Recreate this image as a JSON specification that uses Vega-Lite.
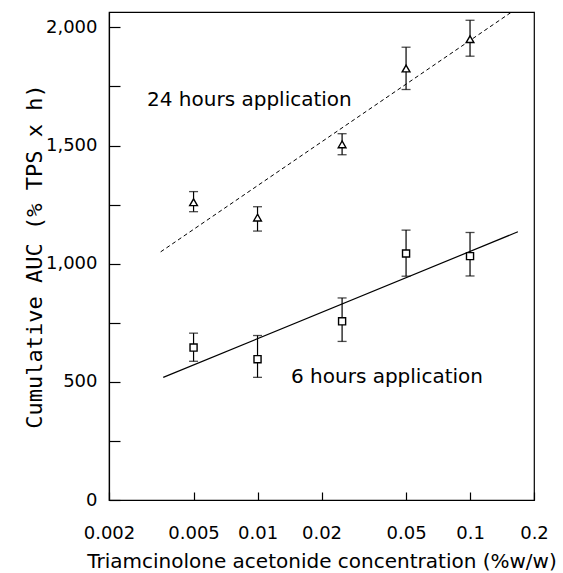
{
  "$schema": "https://vega.github.io/schema/vega-lite/v6.json",
  "width": 425,
  "height": 488,
  "autosize": {"type": "none"},
  "padding": {"left": 109, "top": 12, "right": 29, "bottom": 73},
  "background": "white",
  "config": {
    "view": {"stroke": "black", "strokeWidth": 1.2},
    "font": "DejaVu Sans",
    "axis": {
      "domainColor": "black",
      "domainWidth": 1.2,
      "tickColor": "black",
      "tickWidth": 1.2,
      "labelColor": "black",
      "titleColor": "black",
      "labelFont": "DejaVu Sans",
      "titleFont": "DejaVu Sans",
      "labelFontSize": 18,
      "titleFontSize": 20,
      "titleFontWeight": "normal",
      "grid": false
    }
  },
  "datasets": {
    "pts": [
      {"conc": 0.005, "auc": 1260, "lo": 1220, "hi": 1305, "grp": "24 hours"},
      {"conc": 0.01, "auc": 1195, "lo": 1138, "hi": 1241, "grp": "24 hours"},
      {"conc": 0.025, "auc": 1505, "lo": 1461, "hi": 1550, "grp": "24 hours"},
      {"conc": 0.05, "auc": 1826, "lo": 1737, "hi": 1916, "grp": "24 hours"},
      {"conc": 0.1, "auc": 1950, "lo": 1878, "hi": 2030, "grp": "24 hours"},
      {"conc": 0.005, "auc": 645, "lo": 587, "hi": 706, "grp": "6 hours"},
      {"conc": 0.01, "auc": 596, "lo": 519, "hi": 696, "grp": "6 hours"},
      {"conc": 0.025, "auc": 756, "lo": 671, "hi": 855, "grp": "6 hours"},
      {"conc": 0.05, "auc": 1043, "lo": 947, "hi": 1142, "grp": "6 hours"},
      {"conc": 0.1, "auc": 1032, "lo": 948, "hi": 1132, "grp": "6 hours"}
    ],
    "fit": [
      {"conc": 0.0035, "auc": 1050, "grp": "24 hours"},
      {"conc": 0.157, "auc": 2065, "grp": "24 hours"},
      {"conc": 0.0036, "auc": 519, "grp": "6 hours"},
      {"conc": 0.168, "auc": 1135, "grp": "6 hours"}
    ],
    "labels": [
      {"conc": 0.00302, "auc": 1693, "text": "24 hours application"},
      {"conc": 0.01437, "auc": 520, "text": "6 hours application"}
    ]
  },
  "layer": [
    {
      "data": {"name": "fit"},
      "transform": [{"filter": "datum.grp === '24 hours'"}],
      "mark": {"type": "line", "color": "black", "strokeWidth": 1, "strokeDash": [4, 3], "clip": true},
      "encoding": {
        "x": {
          "field": "conc", "type": "quantitative",
          "scale": {"type": "log", "domain": [0.002, 0.2], "nice": false},
          "title": "Triamcinolone acetonide concentration (%w/w)",
          "axis": {
            "values": [0.002, 0.005, 0.01, 0.02, 0.05, 0.1, 0.2],
            "format": "~g",
            "labelFlush": false,
            "tickSize": -8,
            "labelPadding": 32,
            "titlePadding": 9
          }
        },
        "y": {
          "field": "auc", "type": "quantitative",
          "scale": {"domain": [0, 2065], "nice": false},
          "title": "Cumulative AUC (% TPS x h)",
          "axis": {
            "values": [0, 250, 500, 750, 1000, 1250, 1500, 1750, 2000],
            "labelExpr": "datum.value % 500 === 0 ? format(datum.value, ',') : ''",
            "labelFlush": false,
            "tickSize": -11,
            "labelPadding": 23,
            "titlePadding": -1,
            "titleFont": "DejaVu Sans Mono",
            "titleFontSize": 22
          }
        }
      }
    },
    {
      "data": {"name": "fit"},
      "transform": [{"filter": "datum.grp === '6 hours'"}],
      "mark": {"type": "line", "color": "black", "strokeWidth": 1.2, "clip": true},
      "encoding": {
        "x": {"field": "conc", "type": "quantitative", "title": "Triamcinolone acetonide concentration (%w/w)"},
        "y": {"field": "auc", "type": "quantitative", "title": "Cumulative AUC (% TPS x h)"}
      }
    },
    {
      "data": {"name": "pts"},
      "mark": {"type": "rule", "color": "black", "strokeWidth": 1.2},
      "encoding": {
        "x": {"field": "conc", "type": "quantitative", "title": "Triamcinolone acetonide concentration (%w/w)"},
        "y": {"field": "lo", "type": "quantitative", "title": "Cumulative AUC (% TPS x h)"},
        "y2": {"field": "hi"}
      }
    },
    {
      "data": {"name": "pts"},
      "mark": {"type": "tick", "orient": "horizontal", "color": "black", "size": 9, "thickness": 1.3},
      "encoding": {
        "x": {"field": "conc", "type": "quantitative", "title": "Triamcinolone acetonide concentration (%w/w)"},
        "y": {"field": "lo", "type": "quantitative", "title": "Cumulative AUC (% TPS x h)"}
      }
    },
    {
      "data": {"name": "pts"},
      "mark": {"type": "tick", "orient": "horizontal", "color": "black", "size": 9, "thickness": 1.3},
      "encoding": {
        "x": {"field": "conc", "type": "quantitative", "title": "Triamcinolone acetonide concentration (%w/w)"},
        "y": {"field": "hi", "type": "quantitative", "title": "Cumulative AUC (% TPS x h)"}
      }
    },
    {
      "data": {"name": "pts"},
      "transform": [{"filter": "datum.grp === '24 hours'"}],
      "mark": {"type": "point", "shape": "triangle-up", "filled": true, "fill": "white", "stroke": "black", "strokeWidth": 1.4, "size": 60, "opacity": 1},
      "encoding": {
        "x": {"field": "conc", "type": "quantitative", "title": "Triamcinolone acetonide concentration (%w/w)"},
        "y": {"field": "auc", "type": "quantitative", "title": "Cumulative AUC (% TPS x h)"}
      }
    },
    {
      "data": {"name": "pts"},
      "transform": [{"filter": "datum.grp === '6 hours'"}],
      "mark": {"type": "point", "shape": "square", "filled": true, "fill": "white", "stroke": "black", "strokeWidth": 1.4, "size": 50, "opacity": 1},
      "encoding": {
        "x": {"field": "conc", "type": "quantitative", "title": "Triamcinolone acetonide concentration (%w/w)"},
        "y": {"field": "auc", "type": "quantitative", "title": "Cumulative AUC (% TPS x h)"}
      }
    },
    {
      "data": {"name": "labels"},
      "mark": {"type": "text", "align": "left", "baseline": "middle", "font": "DejaVu Sans", "fontSize": 20, "color": "black"},
      "encoding": {
        "x": {"field": "conc", "type": "quantitative", "title": "Triamcinolone acetonide concentration (%w/w)"},
        "y": {"field": "auc", "type": "quantitative", "title": "Cumulative AUC (% TPS x h)"},
        "text": {"field": "text"}
      }
    }
  ]
}
